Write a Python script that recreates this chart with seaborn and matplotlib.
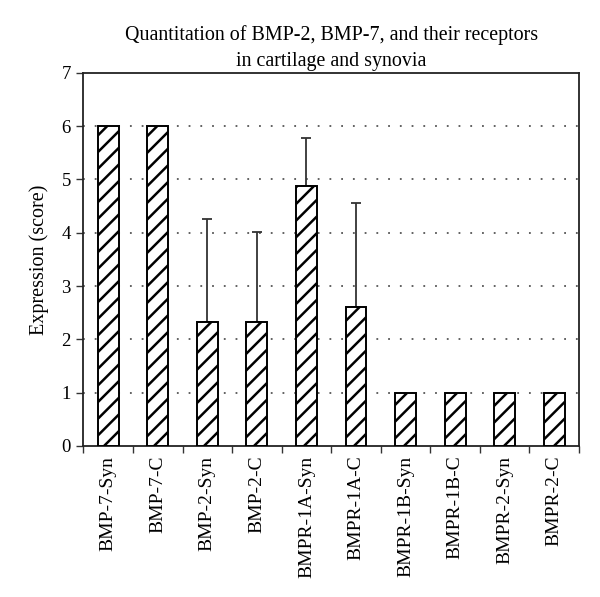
import matplotlib
matplotlib.use("Agg")
import matplotlib.pyplot as plt
import seaborn as sns
import numpy as np
import pandas as pd
from matplotlib.ticker import FixedLocator

categories = ["BMP-7-Syn", "BMP-7-C", "BMP-2-Syn", "BMP-2-C", "BMPR-1A-Syn",
              "BMPR-1A-C", "BMPR-1B-Syn", "BMPR-1B-C", "BMPR-2-Syn", "BMPR-2-C"]
means = [6.0, 6.0, 2.33, 2.33, 4.87, 2.6, 1.0, 1.0, 1.0, 1.0]
upper_err = [0.0, 0.0, 1.92, 1.69, 0.91, 1.96, 0.0, 0.0, 0.0, 0.0]
yticks = [0, 1, 2, 3, 4, 5, 6, 7]

sns.set_theme(style="white")
plt.rcParams["font.family"] = ["Liberation Serif", "DejaVu Serif"]
plt.rcParams["hatch.linewidth"] = 1.8

df = pd.DataFrame({"cat": categories, "val": means})

fig = plt.figure(figsize=(6.0, 5.97), dpi=100)
ax = fig.add_axes([0.139, 0.253, 0.826, 0.625])

sns.barplot(data=df, x="cat", y="val", color="white", edgecolor="black",
            linewidth=1.4, width=0.42, hatch="//", saturation=1, ax=ax, zorder=3)
for p in ax.patches:
    p.set_facecolor("white")
    p.set_edgecolor("black")

pos = np.arange(len(categories))
err = np.array([np.zeros(len(upper_err)), upper_err])
mask = np.array(upper_err) > 0
ax.errorbar(pos[mask], np.array(means)[mask], yerr=err[:, mask], fmt="none",
            ecolor="#333333", elinewidth=1.3, capsize=3.5, capthick=1.3, zorder=2)

ax.set_ylim(0, 7)
ax.set_xlim(-0.5, len(categories) - 0.5)
ax.set_yticks(yticks)
ax.set_yticklabels([str(t) for t in yticks], fontsize=13.5)
ax.set_xticks(pos)
ax.set_xticklabels(categories, rotation=90, fontsize=14)
ax.xaxis.set_minor_locator(FixedLocator(np.arange(-0.5, len(categories), 1.0)))
ax.tick_params(axis="x", which="major", length=0, pad=7, colors="black")
ax.tick_params(axis="x", which="minor", length=5, width=1, direction="out", color="#333333", bottom=True)
ax.tick_params(axis="y", which="major", length=5, width=1, direction="out", color="#333333", left=True, colors="black", pad=4)
for lab in ax.get_xticklabels() + ax.get_yticklabels():
    lab.set_color("black")

for y in yticks[1:-1]:
    ax.axhline(y, color="#555555", linestyle=(0, (1, 5.5)), linewidth=1.3, zorder=1)

for s in ax.spines.values():
    s.set_visible(True)
    s.set_color("#222222")
    s.set_linewidth(1.3)

ax.set_xlabel("")
ax.set_ylabel("Expression (score)", fontsize=14.5, color="black", labelpad=9)
ax.set_title("Quantitation of BMP-2, BMP-7, and their receptors\nin cartilage and synovia",
             fontsize=14.4, color="black", pad=5, linespacing=1.5)

fig.savefig("out.png", dpi=100, facecolor="white")
